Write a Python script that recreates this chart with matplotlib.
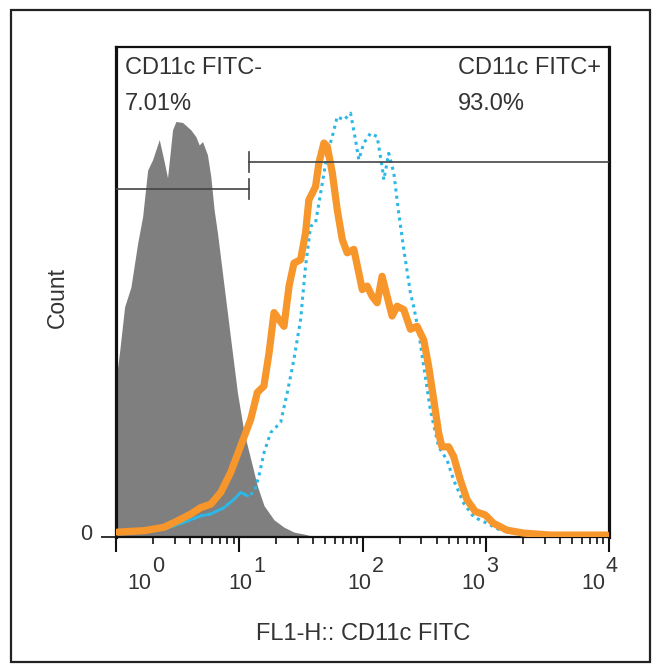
import numpy as np
import matplotlib
matplotlib.use('Agg')
import matplotlib.pyplot as plt
from matplotlib.patches import Rectangle

W, H = 658, 665

# log10 of FL1-H, and count (% of axis height)
gray_x = [0.0, 0.03, 0.07, 0.121, 0.176, 0.216, 0.257, 0.297, 0.351, 0.391, 0.418,
          0.459, 0.486, 0.540, 0.607, 0.648, 0.675, 0.702, 0.742, 0.769, 0.796, 0.823,
          0.877, 0.931, 0.985, 1.039, 1.093, 1.147, 1.201, 1.282, 1.363, 1.444, 1.525, 1.62]
gray_y = [32.0, 38.0, 47.0, 51.0, 60.0, 65.4, 74.9, 77.0, 81.1, 76.6, 73.3,
          83.1, 84.8, 84.6, 83.1, 81.7, 80.0, 80.7, 78.0, 73.6, 66.8, 62.1,
          51.2, 40.3, 29.5, 21.3, 15.9, 10.4, 6.4, 3.5, 2.0, 1.0, 0.6, 0.0]

orange_x = [0.013, 0.229, 0.391, 0.5, 0.607, 0.688, 0.769, 0.850, 0.931, 1.012, 1.093,
            1.147, 1.2, 1.242, 1.282, 1.322, 1.363, 1.404, 1.444, 1.498, 1.538, 1.565,
            1.619, 1.646, 1.687, 1.714, 1.755, 1.795, 1.836, 1.876, 1.930, 1.970, 1.998,
            2.038, 2.079, 2.119, 2.159, 2.2, 2.240, 2.281, 2.335, 2.389, 2.443, 2.497,
            2.537, 2.578, 2.618, 2.645, 2.699, 2.740, 2.794, 2.848, 2.915, 2.996, 3.063,
            3.171, 3.306, 3.522, 3.98]
orange_y = [1.0, 1.3, 2.0, 3.3, 4.7, 6.0, 6.7, 9.1, 13.2, 18.6, 24.0,
            29.5, 30.8, 37.6, 45.8, 44.4, 43.0, 51.2, 55.9, 56.6, 62.1, 68.8,
            71.5, 76.3, 80.4, 79.7, 74.3, 66.8, 60.7, 58.0, 58.7, 53.9, 50.5,
            51.2, 49.1, 47.8, 53.2, 49.1, 45.1, 47.1, 46.4, 42.4, 43.0, 40.2,
            34.8, 28.0, 21.2, 18.4, 18.4, 16.4, 11.6, 7.6, 5.2, 4.5, 2.8,
            1.4, 0.8, 0.4, 0.4]

cyan_x = [0.229, 0.391, 0.553, 0.688, 0.769, 0.877, 0.958, 1.012, 1.066, 1.120, 1.160,
          1.201, 1.255, 1.336, 1.390, 1.444, 1.498, 1.538, 1.579, 1.619, 1.674, 1.714,
          1.755, 1.795, 1.849, 1.903, 1.943, 1.970, 2.011, 2.065, 2.119, 2.159, 2.173,
          2.213, 2.254, 2.294, 2.335, 2.389, 2.416, 2.457, 2.497, 2.551, 2.618, 2.686,
          2.740, 2.821, 2.902, 3.010, 3.117, 3.279, 3.45]
cyan_y = [1.0, 1.6, 3.0, 4.3, 4.7, 6.0, 7.7, 9.1, 8.4, 9.1, 12.5,
          17.2, 21.3, 23.4, 29.5, 36.3, 44.4, 55.3, 63.4, 64.1, 72.2, 78.3,
          81.7, 85.8, 85.1, 86.5, 81.1, 77.0, 80.4, 82.4, 81.7, 75.6, 72.9,
          78.3, 74.3, 66.1, 58.7, 49.8, 47.0, 41.6, 34.8, 25.9, 18.4, 15.7,
          11.6, 6.9, 4.1, 2.8, 1.4, 0.8, 0.0]

gate_split = 10 ** 1.079
gate_neg_y = 71.0
gate_pos_y = 76.5
labels_neg = ['CD11c FITC-', '7.01%']
labels_pos = ['CD11c FITC+', '93.0%']
decades = [0, 1, 2, 3, 4]

text_col = '#333333'
plt.rcParams['font.family'] = ['Liberation Sans', 'DejaVu Sans']


def fx(x):
    return x / W


def fy(y):
    return 1 - y / H


fig = plt.figure(figsize=(W / 100, H / 100), dpi=100)
fig.patches.append(Rectangle((fx(11), fy(662)), fx(650) - fx(11), fy(10) - fy(662),
                             transform=fig.transFigure, fill=False, edgecolor='#222222',
                             linewidth=1.6))

ax = fig.add_axes([fx(116), fy(537), fx(609) - fx(116), fy(47) - fy(537)])

gx = 10 ** np.array(gray_x)
ax.fill_between(gx, gray_y, 0, color='#7f7f7f', linewidth=0, zorder=1)

ox = 10 ** np.array(orange_x)
ax.plot(ox, orange_y, color='#F7962B', linewidth=5.2, solid_joinstyle='round',
        solid_capstyle='round', zorder=3)

cx = 10 ** np.array(cyan_x)
cy = np.array(cyan_y)
ax.plot(cx, cy, color='#2BB8E6', linewidth=2.2, linestyle=(0, (1, 1.4)), zorder=2)
low = cx < 12.5
ax.plot(cx[low], cy[low], color='#2BB8E6', linewidth=2, zorder=2)

# gates
ax.plot([1, gate_split], [gate_neg_y, gate_neg_y], color='#444444', lw=1.2, zorder=4)
ax.plot([gate_split, gate_split], [gate_neg_y - 2.1, gate_neg_y + 2.1], color='#444444', lw=1.2, zorder=4)
ax.plot([gate_split, 1e4], [gate_pos_y, gate_pos_y], color='#444444', lw=1.2, zorder=4)
ax.plot([gate_split, gate_split], [gate_pos_y - 2.1, gate_pos_y + 2.1], color='#444444', lw=1.2, zorder=4)

ax.set_xscale('log')
ax.set_xlim(1, 1e4)
ax.set_ylim(0, 100)
ax.set_xticks([10 ** d for d in decades])
ax.set_xticklabels([''] * len(decades))
ax.xaxis.set_minor_locator(matplotlib.ticker.LogLocator(base=10, subs=np.arange(2, 10)))
ax.xaxis.set_minor_formatter(matplotlib.ticker.NullFormatter())
ax.tick_params(axis='x', which='major', length=11, width=1.5, direction='out', color='#111111')
ax.tick_params(axis='x', which='minor', length=5, width=1.2, direction='out', color='#111111')
ax.set_yticks([0])
ax.set_yticklabels([''])
ax.tick_params(axis='y', length=11, width=1.2, color='#111111')

for side in ['left', 'right']:
    ax.spines[side].set_linewidth(2.3)
    ax.spines[side].set_color('#111111')
for side in ['top', 'bottom']:
    ax.spines[side].set_linewidth(1.6)
    ax.spines[side].set_color('#111111')

# FlowJo style tick labels
label_cx = [140, 241, 360, 474, 594]
for d, xc in zip(decades, label_cx):
    fig.text(fx(xc + 11), fy(589), '10', ha='right', va='baseline', fontsize=15.5, color=text_col)
    fig.text(fx(xc + 12), fy(572), str(d), ha='left', va='baseline', fontsize=15.5, color=text_col)
fig.text(fx(92), fy(540), '0', ha='right', va='baseline', fontsize=15.5, color=text_col)

fig.text(fx(125), fy(74), labels_neg[0], ha='left', va='baseline', fontsize=17, color=text_col)
fig.text(fx(125), fy(110), labels_neg[1], ha='left', va='baseline', fontsize=17, color=text_col)
fig.text(fx(458), fy(74), labels_pos[0], ha='left', va='baseline', fontsize=17, color=text_col)
fig.text(fx(458), fy(110), labels_pos[1], ha='left', va='baseline', fontsize=17, color=text_col)

fig.text(fx(57), fy(298), 'Count', rotation=90, ha='center', va='center', fontsize=16.5, color=text_col)
fig.text(fx(363), fy(640), 'FL1-H:: CD11c FITC', ha='center', va='baseline', fontsize=17, color=text_col)

fig.savefig('out.png', dpi=100)
